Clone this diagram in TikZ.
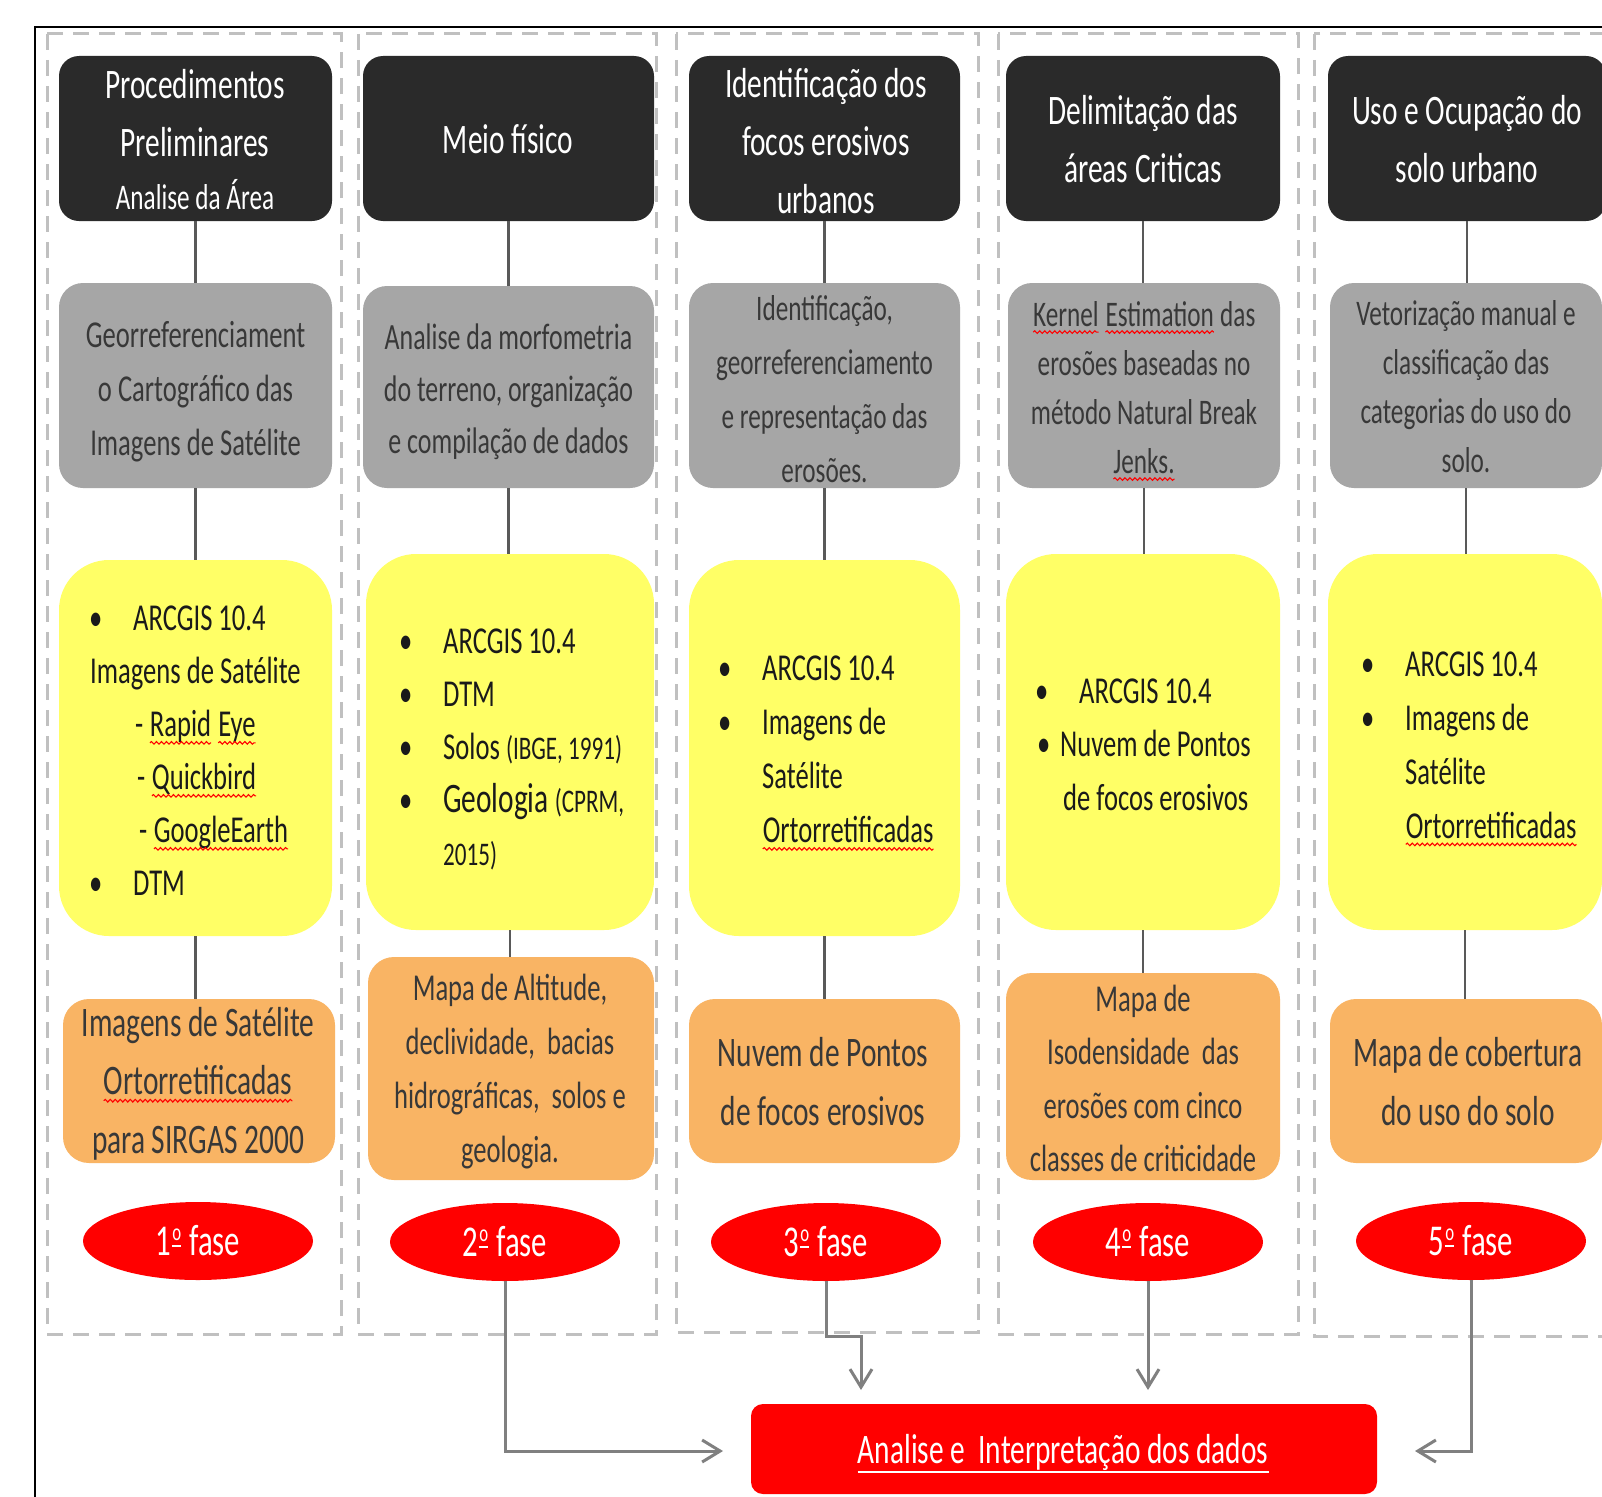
\documentclass[tikz,border=0pt]{standalone}
\usepackage{fontspec}
\setmainfont{Carlito}[FakeStretch=0.7]
\usetikzlibrary{shapes.geometric,arrows.meta,decorations.pathmorphing}
\definecolor{boxblack}{HTML}{2A2A2A}
\definecolor{boxgray}{HTML}{A6A6A6}
\definecolor{boxyellow}{HTML}{FFFF66}
\definecolor{boxorange}{HTML}{F9B464}
\definecolor{dashgray}{HTML}{C0C0C0}
\definecolor{conngray}{HTML}{595959}
\definecolor{arrgray}{HTML}{808080}
\definecolor{txtdark}{HTML}{383838}
\definecolor{txtblack}{HTML}{1A1A1A}
\newcommand\fs[2]{\fontsize{#1}{#2}\selectfont}
\newcommand\sq[1]{\tikz[baseline=(sqw.base)]{\node[inner sep=0pt, outer sep=0pt, anchor=base] (sqw) {#1};
  \draw[red, line width=1.1pt, decorate, decoration={snake, amplitude=1.3pt, segment length=5pt}] ([yshift=-6pt]sqw.base west) -- ([yshift=-6pt]sqw.base east);}}
\newcommand\bul{\makebox[44pt][l]{•}}
\newcommand\ordm{\hbox{\kern1pt\raisebox{15pt}{\fs{24}{24}o}\kern-9.5pt\rule[9pt]{9.5pt}{2.2pt}\kern1pt}}
\begin{document}
\begin{tikzpicture}[x=1pt,y=-1pt,
  sz/.style 2 args={minimum width=#1, minimum height=#2},
  titlebox/.style={rectangle, rounded corners=20pt, fill=boxblack, inner sep=0pt},
  graybox/.style={rectangle, rounded corners=24pt, fill=boxgray, inner sep=0pt},
  yellowbox/.style={rectangle, rounded corners=50pt, fill=boxyellow, inner sep=0pt},
  orangebox/.style={rectangle, rounded corners=26pt, fill=boxorange, inner sep=0pt},
  phase/.style={ellipse, fill=red, inner sep=0pt, minimum width=230pt, minimum height=78pt, text=white, font={\fs{44}{50}}},
  ttitle/.style={text=white, align=center, inner sep=0pt, font={\fs{42}{58}}},
  tgray/.style={text=txtdark, align=center, inner sep=0pt},
  tyel/.style={text=txtblack, align=left, inner sep=0pt, anchor=west},
  torange/.style={text=txtdark, align=center, inner sep=0pt},
  colframe/.style={draw=dashgray, line width=3pt, dash pattern=on 16pt off 10pt},
  conn/.style={draw=conngray, line width=2.5pt},
  arr/.style={draw=arrgray, line width=3pt, -{Straight Barb[length=18pt,width=22pt]}}
]
\clip (0,0) rectangle (1602,1496);
\useasboundingbox (0,0) rectangle (1602,1496);
\fill[white] (0,0) rectangle (1602,1496);
% outer frame
\draw[black, line width=2.5pt] (35,1500) -- (35,27) -- (1610,27);
% dashed column frames
\draw[colframe] (47,34) rectangle (341,1334);
\draw[colframe] (358,34) rectangle (656,1334);
\draw[colframe] (676,34) rectangle (978,1332);
\draw[colframe] (998,34) rectangle (1298,1334);
\draw[colframe] (1314,34) rectangle (1640,1336);

% title boxes
\node[titlebox, sz={273}{165}] (b1) at (195.5,138.5) {};
\node[titlebox, sz={291}{165}] (b2) at (508.5,138.5) {};
\node[titlebox, sz={271}{165}] (b3) at (824.5,138.5) {};
\node[titlebox, sz={274}{165}] (b4) at (1143,138.5) {};
\node[titlebox, sz={278}{165}] (b5) at (1467,138.5) {};
% gray boxes
\node[graybox, sz={273}{205}] (g1) at (195.5,385.5) {};
\node[graybox, sz={291}{202}] (g2) at (508.5,387) {};
\node[graybox, sz={271}{205}] (g3) at (824.5,385.5) {};
\node[graybox, sz={272}{205}] (g4) at (1144,385.5) {};
\node[graybox, sz={272}{205}] (g5) at (1466,385.5) {};
% yellow boxes
\node[yellowbox, sz={273}{376}] (y1) at (195.5,748) {};
\node[yellowbox, sz={288}{376}] (y2) at (510,742) {};
\node[yellowbox, sz={271}{376}] (y3) at (824.5,748) {};
\node[yellowbox, sz={274}{376}] (y4) at (1143,742) {};
\node[yellowbox, sz={274}{376}] (y5) at (1465,742) {};
% orange boxes
\node[orangebox, sz={272}{164}] (o1) at (199,1081) {};
\node[orangebox, sz={286}{223}] (o2) at (511,1068.5) {};
\node[orangebox, sz={271}{164}] (o3) at (824.5,1081) {};
\node[orangebox, sz={274}{207}] (o4) at (1143,1076.5) {};
\node[orangebox, sz={272}{164}] (o5) at (1466,1081) {};

% connectors
\foreach \i in {1,...,5}{
  \draw[conn] (b\i.south) -- (b\i.south |- g\i.north);
  \draw[conn] (g\i.south) -- (g\i.south |- y\i.north);
  \draw[conn] (y\i.south) -- (y\i.south |- o\i.north);
}

% title texts
\node[ttitle] (tb1) at (195,140) {Procedimentos\\Preliminares\\[-5pt]{\fs{36}{53}Analise da Área}};
\node[ttitle] (tb2) at (508,139) {Meio físico};
\node[ttitle] (tb3) at (826,141.5) {Identificação dos\\focos erosivos\\urbanos};
\node[ttitle] (tb4) at (1143,139) {Delimitação das\\áreas Criticas};
\node[ttitle] (tb5) at (1467,139) {Uso e Ocupação do\\solo urbano};

% gray texts
\node[tgray, font={\fs{38}{54}}] (tg1) at (195.5,392) {Georreferenciament\\o Cartográfico das\\Imagens de Satélite};
\node[tgray, font={\fs{37}{52}}] (tg2) at (508.5,392) {Analise da morfometria\\do terreno, organização\\e compilação de dados};
\node[tgray, font={\fs{36}{54}}] (tg3) at (824.5,389.5) {Identificação,\\georreferenciamento\\e representação das\\erosões.};
\node[tgray, font={\fs{36}{49}}] (tg4) at (1144,391) {\sq{Kernel} \sq{Estimation} das\\erosões baseadas no\\método Natural Break\\\sq{Jenks.}};
\node[tgray, font={\fs{36}{49}}] (tg5) at (1466,387) {Vetorização manual e\\classificação das\\categorias do uso do\\solo.};

% yellow texts
\node[tyel, font={\fs{38}{53}}] (ty1) at (89,751) {\bul ARCGIS 10.4\\
\hspace*{1pt}Imagens de Satélite\\
\hspace*{46pt}- \sq{Rapid} \sq{Eye}\\
\hspace*{48pt}- \sq{Quickbird}\\
\hspace*{50pt}- \sq{GoogleEarth}\\
\bul DTM};
\node[tyel, font={\fs{38}{53}}] (ty2) at (399,749.5) {\bul ARCGIS 10.4\\
\bul DTM\\
\bul Solos {\fs{33}{53}(IBGE, 1991)}\\
\bul {\fs{42}{53}Geologia} {\fs{33}{53}(CPRM,}\\
\hspace*{44pt}{\fs{33}{53}2015)}};
\node[tyel, font={\fs{38}{54}}] (ty3) at (718,753.5) {\bul ARCGIS 10.4\\
\bul Imagens de\\
\hspace*{44pt}Satélite\\
\hspace*{44pt}\sq{Ortorretificadas}};
\node[tyel, font={\fs{38}{53.5}}] (ty4) at (1035,744.5) {\bul ARCGIS 10.4\\
\hspace*{2pt}\makebox[23pt][l]{•}Nuvem de Pontos\\
\hspace*{28pt}de focos erosivos};
\node[tyel, font={\fs{38}{54}}] (ty5) at (1361,749) {\bul ARCGIS 10.4\\
\bul Imagens de\\
\hspace*{44pt}Satélite\\
\hspace*{44pt}\sq{Ortorretificadas}};

% orange texts
\node[torange, font={\fs{42}{58.5}}] (to1) at (198,1083.5) {Imagens de Satélite\\\sq{Ortorretificadas}\\para SIRGAS 2000};
\node[torange, font={\fs{38}{54}}] (to2) at (510,1071.5) {Mapa de Altitude,\\declividade,~ bacias\\hidrográficas,~ solos e\\geologia.};
\node[torange, font={\fs{42}{58.5}}] (to3) at (823,1081.5) {Nuvem de Pontos\\de focos erosivos};
\node[torange, font={\fs{38}{53.5}}] (to4) at (1143,1078.5) {Mapa de\\Isodensidade~ das\\erosões com cinco\\classes de criticidade};
\node[torange, font={\fs{42}{58.5}}] (to5) at (1468,1081.5) {Mapa de cobertura\\do uso do solo};

% phases
\node[phase] (e1) at (198,1241) {1\ordm{} fase};
\node[phase] (e2) at (505,1242) {2\ordm{} fase};
\node[phase] (e3) at (826,1242) {3\ordm{} fase};
\node[phase] (e4) at (1148,1242) {4\ordm{} fase};
\node[phase] (e5) at (1471,1241) {5\ordm{} fase};

% result box
\node[rectangle, rounded corners=12pt, fill=red, inner sep=0pt, sz={626}{90}] (res) at (1064,1449) {};
\node[text=white, inner sep=0pt, font={\fs{42}{50}}] (rest) at (1063,1452) {Analise e~~Interpretação dos dados};
\draw[white, line width=2.5pt] ([yshift=-9pt]rest.base west) -- ([yshift=-9pt]rest.base east);

% arrows to result
\coordinate (a2) at (723,1451);
\coordinate (a3) at (861,1390);
\coordinate (a4) at (1148,1390);
\coordinate (a5) at (1415,1451);
\draw[arr] (e2.south) |- (a2);
\draw[arr] (e3.south) -- ++(0,55) -| (a3);
\draw[arr] (e4.south) -- (a4);
\draw[arr] (e5.south) |- (a5);
\end{tikzpicture}
\end{document}
